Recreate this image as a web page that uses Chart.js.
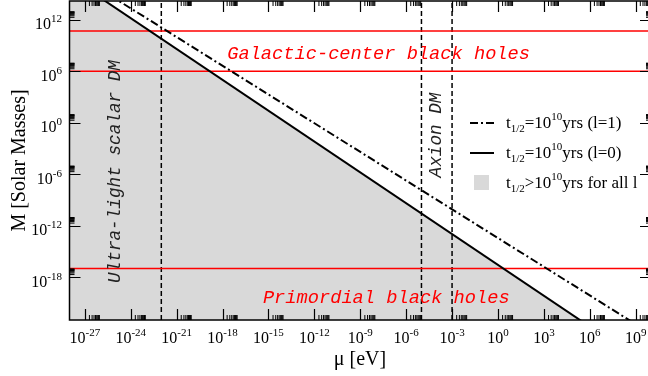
<!DOCTYPE html>
<html>
<head>
<meta charset="utf-8">
<script src="https://cdn.jsdelivr.net/npm/chart.js@4.4.1/dist/chart.umd.min.js"></script>
<style>
  html, body { margin: 0; padding: 0; background: #fff; overflow: hidden; }
  #wrap { width: 652px; height: 376px; }
</style>
</head>
<body>
<div id="wrap"><canvas id="chart"></canvas></div>
<script>
// axis ranges (mu in eV, mass in solar masses)
const muRange = [1e-28, 1e10];
const massRange = [1e-23, 1.6e14];

// t_1/2 = 10^10 yrs curves, end points
const l0Mu = [1e-28, 1e6];
const l0Mass = [1e17, 1.7e-24];
const l1Mu = [1e-28, 1e10];
const l1Mass = [6.5e17, 2.5e-25];

// black hole mass bounds (red lines) and DM masses (dashed lines)
const bandMass = [5e10, 1e6, 1e-17];
const dmMu = [1e-22, 1e-5, 1e-3];

// tick exponents
const xMajorExp = [-27, -24, -21, -18, -15, -12, -9, -6, -3, 0, 3, 6, 9];
const yMajorExp = [-18, -12, -6, 0, 6, 12];
const minorSteps = [2, 3, 4, 5, 6, 7, 8, 9];

const SERIF = '"Liberation Serif", "Times New Roman", serif';
const MONO = '"Liberation Mono", "Courier New", monospace';

function pts(xs, ys) {
  return xs.map((v, i) => ({ x: v, y: ys[i] }));
}

const datasets = [];
datasets.push({
  label: 'l=1',
  data: pts(l1Mu, l1Mass),
  borderColor: '#000',
  borderWidth: 2,
  borderDash: [8, 3, 2, 3],
  pointRadius: 0,
  fill: false,
  order: 0
});
datasets.push({
  label: 'l=0',
  data: pts(l0Mu, l0Mass),
  borderColor: '#000',
  borderWidth: 2,
  backgroundColor: '#d9d9d9',
  pointRadius: 0,
  fill: 'start',
  order: 0
});
bandMass.forEach(m => {
  datasets.push({
    label: 'band',
    data: pts(muRange, [m, m]),
    borderColor: '#ff0000',
    borderWidth: 1.5,
    pointRadius: 0,
    fill: false,
    order: 1
  });
});
dmMu.forEach(mu => {
  datasets.push({
    label: 'dm',
    data: pts([mu, mu], massRange),
    borderColor: '#000',
    borderWidth: 1.5,
    borderDash: [5, 3],
    pointRadius: 0,
    fill: false,
    order: 1
  });
});

// 10^n label with superscript
function drawPow(ctx, exp, x, y, align, size) {
  const base = '10';
  const sup = String(exp);
  ctx.font = size + 'px ' + SERIF;
  const wb = ctx.measureText(base).width;
  ctx.font = Math.round(size * 0.68) + 'px ' + SERIF;
  const ws = ctx.measureText(sup).width;
  let start = x - (wb + ws) / 2;
  if (align === 'right') start = x - wb - ws;
  ctx.textAlign = 'left';
  ctx.textBaseline = 'alphabetic';
  ctx.font = size + 'px ' + SERIF;
  ctx.fillText(base, start, y);
  ctx.font = Math.round(size * 0.68) + 'px ' + SERIF;
  ctx.fillText(sup, start + wb, y - 7);
}

// rich text pieces: [text, size, dy]
function drawRich(ctx, parts, x, y) {
  ctx.textAlign = 'left';
  ctx.textBaseline = 'alphabetic';
  parts.forEach(([t, size, dy]) => {
    ctx.font = size + 'px ' + SERIF;
    ctx.fillText(t, x, y + dy);
    x += ctx.measureText(t).width;
  });
}

const overlay = {
  id: 'overlay',
  afterDatasetsDraw(chart) {
    const { ctx, chartArea: a, scales } = chart;
    const sx = scales.x, sy = scales.y;
    ctx.save();

    // in-plot labels
    ctx.fillStyle = '#ff0000';
    ctx.font = 'italic 18.7px ' + MONO;
    ctx.textAlign = 'center';
    ctx.textBaseline = 'alphabetic';
    ctx.fillText('Galactic-center black holes', sx.getPixelForValue(Math.pow(10, -7.8)), sy.getPixelForValue(Math.pow(10, 7.4)));
    ctx.fillText('Primordial black holes', sx.getPixelForValue(Math.pow(10, -7.3)), sy.getPixelForValue(Math.pow(10, -21.0)));

    ctx.fillStyle = '#222';
    ctx.font = 'italic 17.7px ' + MONO;
    ctx.save();
    ctx.translate(119.5, 171.5);
    ctx.rotate(-Math.PI / 2);
    ctx.fillText('Ultra-light scalar DM', 0, 0);
    ctx.restore();
    ctx.save();
    ctx.translate(441, 135);
    ctx.rotate(-Math.PI / 2);
    ctx.fillText('Axion DM', 0, 0);
    ctx.restore();

    // legend
    ctx.fillStyle = '#000';
    ctx.strokeStyle = '#000';
    ctx.lineWidth = 2;
    ctx.setLineDash([8, 3, 2, 3]);
    ctx.beginPath(); ctx.moveTo(470, 123); ctx.lineTo(494, 123); ctx.stroke();
    ctx.setLineDash([]);
    ctx.beginPath(); ctx.moveTo(470, 153); ctx.lineTo(494, 153); ctx.stroke();
    ctx.fillStyle = '#d9d9d9';
    ctx.fillRect(474, 175, 15, 15);
    ctx.fillStyle = '#000';
    drawRich(ctx, [['t', 17, 0], ['1/2', 11, 4], ['=10', 17, 0], ['10', 11, -8], ['yrs (l=1)', 17, 0]], 506, 128);
    drawRich(ctx, [['t', 17, 0], ['1/2', 11, 4], ['=10', 17, 0], ['10', 11, -8], ['yrs (l=0)', 17, 0]], 506, 158);
    drawRich(ctx, [['t', 17, 0], ['1/2', 11, 4], ['>10', 17, 0], ['10', 11, -8], ['yrs for all l', 17, 0]], 506, 188);
    ctx.restore();
  },
  afterDraw(chart) {
    const { ctx, chartArea: a, scales } = chart;
    const sx = scales.x, sy = scales.y;
    ctx.save();
    ctx.strokeStyle = '#000';
    ctx.fillStyle = '#000';

    // frame
    ctx.lineWidth = 1.5;
    ctx.strokeRect(a.left, a.top, a.right - a.left, a.bottom - a.top);

    // ticks on all four sides, pointing in
    const tick = (px, len, horiz) => {
      ctx.beginPath();
      if (horiz) {
        ctx.moveTo(px, a.bottom); ctx.lineTo(px, a.bottom - len);
        ctx.moveTo(px, a.top); ctx.lineTo(px, a.top + len);
      } else {
        ctx.moveTo(a.left, px); ctx.lineTo(a.left + len, px);
        ctx.moveTo(a.right, px); ctx.lineTo(a.right - len, px);
      }
      ctx.stroke();
    };
    xMajorExp.forEach(e => {
      ctx.lineWidth = 1.2;
      tick(Math.round(sx.getPixelForValue(Math.pow(10, e))) + 0.5, 11, true);
      ctx.lineWidth = 1;
      minorSteps.forEach(k => tick(sx.getPixelForValue(k * Math.pow(10, e)), 5, true));
    });
    yMajorExp.forEach(e => {
      ctx.lineWidth = 1.2;
      tick(Math.round(sy.getPixelForValue(Math.pow(10, e))) + 0.5, 11, false);
      ctx.lineWidth = 1;
      minorSteps.forEach(k => tick(sy.getPixelForValue(k * Math.pow(10, e)), 5, false));
    });

    // tick labels
    xMajorExp.forEach(e => drawPow(ctx, e, sx.getPixelForValue(Math.pow(10, e)), 343, 'center', 16));
    yMajorExp.forEach(e => drawPow(ctx, e, 62, sy.getPixelForValue(Math.pow(10, e)) + 9.5, 'right', 16));

    // axis titles
    ctx.font = '20px ' + SERIF;
    ctx.textAlign = 'center';
    ctx.textBaseline = 'alphabetic';
    ctx.fillText('\u03bc [eV]', 360, 365);
    ctx.save();
    ctx.translate(25, 160.5);
    ctx.rotate(-Math.PI / 2);
    ctx.fillText('M [Solar Masses]', 0, 0);
    ctx.restore();
    ctx.restore();
  }
};

new Chart(document.getElementById('chart'), {
  type: 'line',
  data: { datasets },
  options: {
    responsive: true,
    maintainAspectRatio: false,
    animation: false,
    layout: { padding: { left: 69.5, top: 1, right: 1, bottom: 56 } },
    plugins: {
      legend: { display: false },
      tooltip: { enabled: false },
      filler: { drawTime: 'beforeDatasetsDraw' }
    },
    scales: {
      x: { type: 'logarithmic', min: muRange[0], max: muRange[1], display: false },
      y: { type: 'logarithmic', min: massRange[0], max: massRange[1], display: false }
    }
  },
  plugins: [overlay]
});
</script>
</body>
</html>
